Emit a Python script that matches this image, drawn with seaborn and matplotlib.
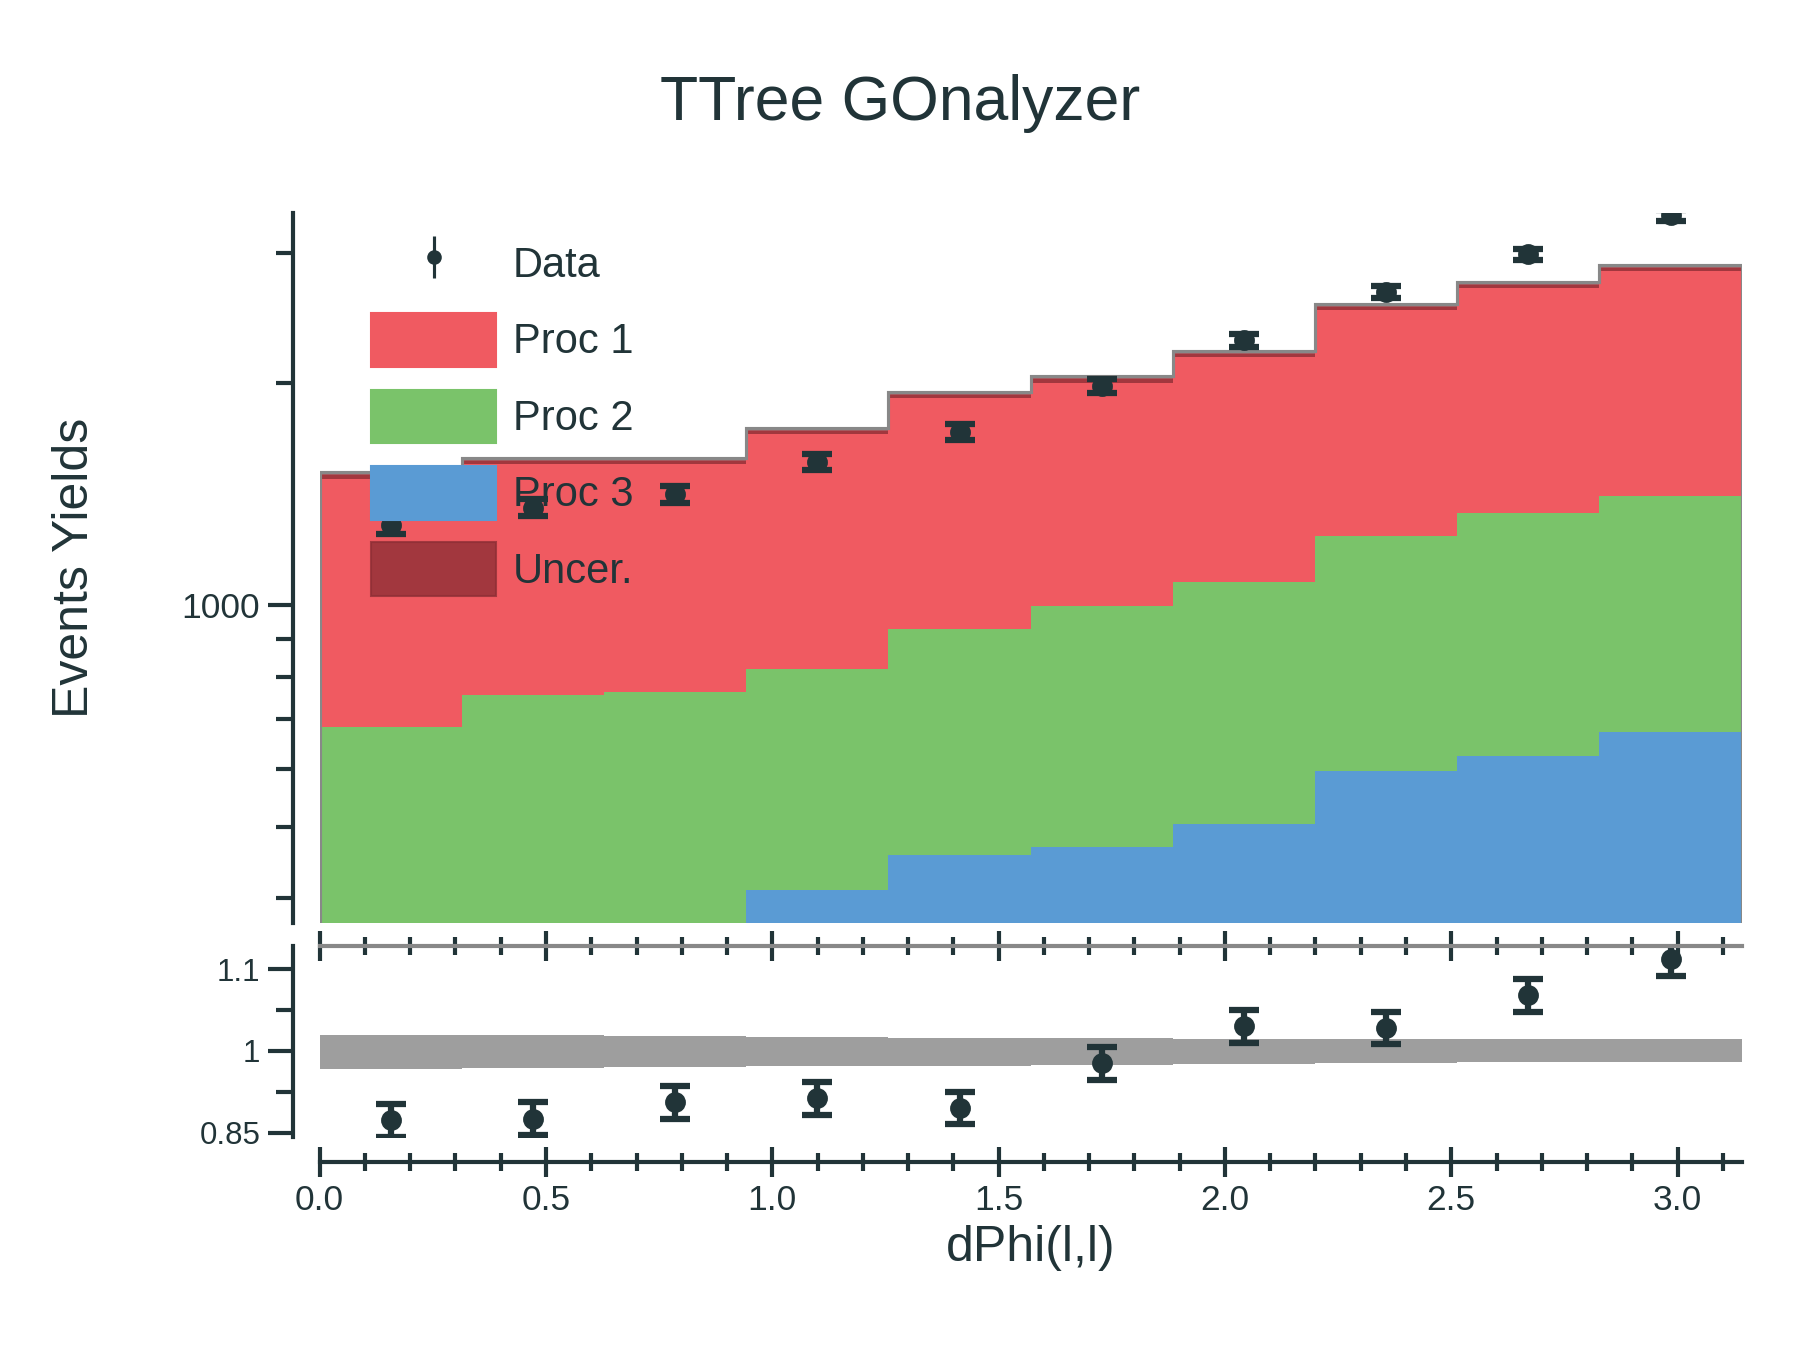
import numpy as np
import matplotlib
matplotlib.use("Agg")
import matplotlib.pyplot as plt
import seaborn as sns
from matplotlib.patches import Patch
from matplotlib.lines import Line2D

edges = np.linspace(0, np.pi, 11)
centers = 0.5 * (edges[:-1] + edges[1:])

proc3 = [300, 300, 300, 411, 458, 470, 505, 595, 625, 672]
proc2 = [384, 456, 462, 407, 470, 526, 569, 645, 707, 733]
proc1 = [815, 813, 807, 906, 999, 1028, 1119, 1299, 1384, 1462]
data = [1285, 1356, 1415, 1565, 1717, 1982, 2287, 2658, 2991, 3377]
ratio = [0.915, 0.917, 0.937, 0.942, 0.930, 0.985, 1.030, 1.028, 1.068, 1.112]
unc_lo = [0.978, 0.979, 0.980, 0.981, 0.982, 0.983, 0.984, 0.985, 0.986, 0.986]
unc_hi = [1.020, 1.019, 1.018, 1.017, 1.016, 1.016, 1.015, 1.015, 1.014, 1.014]

sns.set_theme(style="ticks")
plt.rcParams['font.family'] = ['Liberation Sans', 'DejaVu Sans']
dark = "#213438"
plt.rcParams.update({"text.color": dark, "axes.labelcolor": dark,
                     "xtick.color": dark, "ytick.color": dark, "axes.edgecolor": dark})

red, green, blue, unc_col = "#f05a61", "#7ac36a", "#5a9bd4", "#8f2f36"

fig = plt.figure(figsize=(12, 9), dpi=150)
ax = fig.add_axes([0.1776, 0.316, 0.79, 0.526])
rax = fig.add_axes([0.1776, 0.158, 0.79, 0.141])

p3 = np.array(proc3, float)
p2 = p3 + np.array(proc2)
p1 = p2 + np.array(proc1)
ax.stairs(p1, edges, baseline=1, fill=True, color=red, lw=0)
ax.stairs(p2, edges, baseline=1, fill=True, color=green, lw=0)
ax.stairs(p3, edges, baseline=1, fill=True, color=blue, lw=0)
ax.stairs(p1 * 1.01, edges, baseline=p1 * 0.99, fill=True, color=unc_col, alpha=0.8, lw=0)
ax.stairs(p1 * 1.01, edges, color="#888888", lw=1.5)
ax.errorbar(centers, data, yerr=np.sqrt(data), fmt="o", color=dark, ms=9,
            capsize=7, capthick=3, elinewidth=3)
ax.set_yscale("log")
ax.set_ylim(370, 3400)
ax.set_xlim(0, np.pi)
ax.set_yticks([1000])
ax.set_yticklabels(["1000"])
ax.tick_params(axis="y", which="major", length=12, width=2, labelsize=17)
ax.tick_params(axis="y", which="minor", length=8, width=2, labelleft=False)
ax.set_xticks([])
ax.set_ylabel("Events Yields", fontsize=24, labelpad=40)
sns.despine(ax=ax, bottom=True, offset={"left": 13})
ax.spines["left"].set_linewidth(2)

handles = [Line2D([], [], marker="o", color=dark, ms=11, ls="none"),
           Patch(color=red), Patch(color=green), Patch(color=blue),
           Patch(color=unc_col, alpha=0.8)]
ax.errorbar([], [], yerr=[], fmt="o", color=dark)
eb = ax.containers[-1]
handles[0] = eb
ax.legend(handles, ["Data", "Proc 1", "Proc 2", "Proc 3", "Uncer."], loc="upper left",
          bbox_to_anchor=(0.01, 1.02), frameon=False, fontsize=20,
          handlelength=3.0, handleheight=1.6, labelspacing=0.55, handletextpad=0.4)

rax.stairs(unc_hi, edges, baseline=unc_lo, fill=True, color="#9e9e9e", lw=0)
rax.errorbar(centers, ratio, yerr=0.02, fmt="o", color=dark, ms=9,
             capsize=7, capthick=3, elinewidth=3)
rax.set_xlim(0, np.pi)
rax.set_ylim(0.895, 1.128)
rax.set_yticks([0.9, 1.0, 1.1])
rax.set_yticklabels(["0.85", "1", "1.1"])
rax.set_yticks([0.95, 1.05], minor=True)
rax.set_xticks(np.arange(0, 3.01, 0.5))
rax.set_xticks(np.arange(0, 3.15, 0.1), minor=True)
rax.tick_params(axis="y", which="major", length=12, width=2, labelsize=15)
rax.tick_params(axis="y", which="minor", length=8, width=2)
rax.tick_params(axis="x", which="both", top=True, direction="inout", width=2, labelsize=17)
rax.tick_params(axis="x", which="major", length=14)
rax.tick_params(axis="x", which="minor", length=9)
rax.xaxis.set_major_formatter(matplotlib.ticker.FormatStrFormatter("%.1f"))
rax.set_xlabel("dPhi(l,l)", fontsize=24)
sns.despine(ax=rax, top=False, offset={"left": 13, "bottom": 12})
for s in ["left", "bottom"]:
    rax.spines[s].set_linewidth(2)
rax.spines["top"].set_color("#888888")
rax.spines["top"].set_linewidth(2)
rax.spines["left"].set_bounds(0.895, 1.128)

fig.suptitle("TTree GOnalyzer", fontsize=30, y=0.945)
fig.savefig("out.png", dpi=150)
